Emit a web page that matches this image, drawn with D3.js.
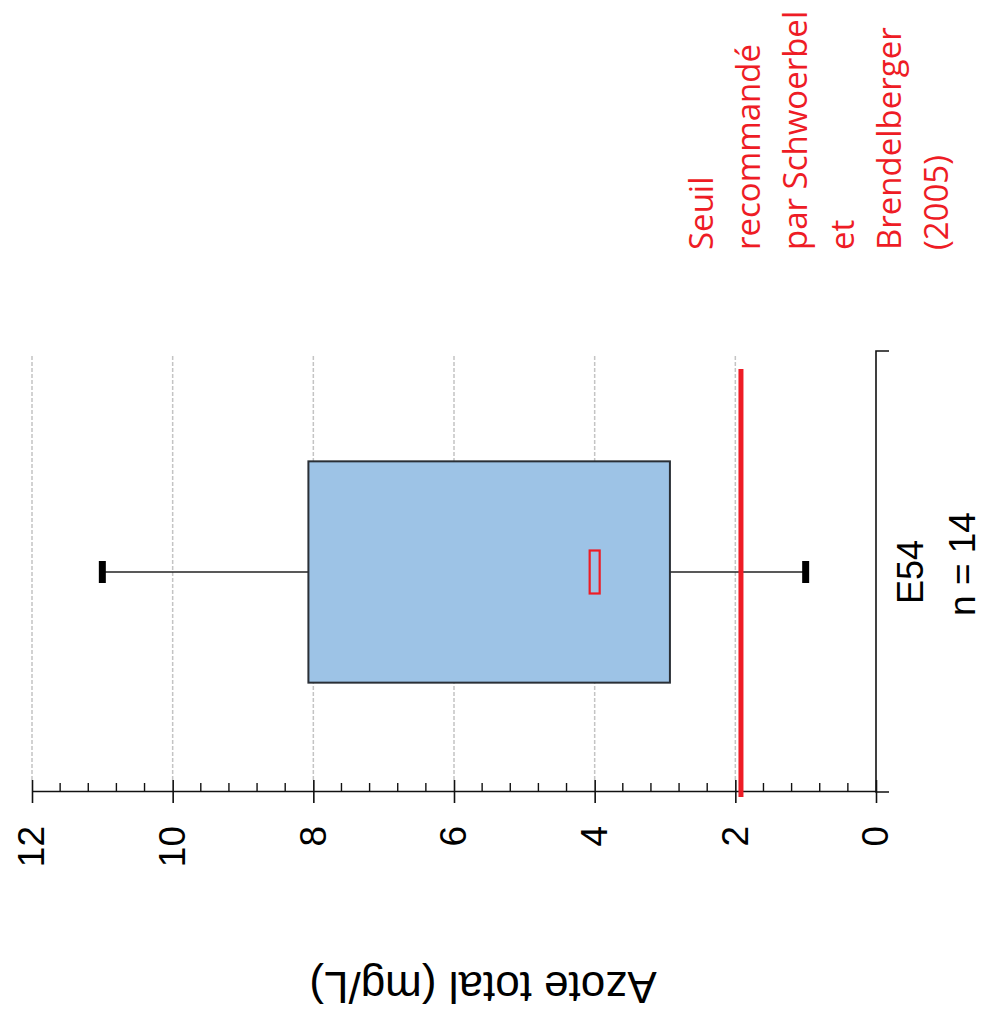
<!DOCTYPE html>
<html>
<head>
<meta charset="utf-8">
<script src="https://cdn.jsdelivr.net/npm/d3@7"></script>
<style>
  html, body { margin: 0; padding: 0; background: #fff; }
  svg { display: block; }
</style>
</head>
<body>
<script>
// Total nitrogen at station E54 (mg/L)
const categories = ["E54"];
const counts = [14];
const whiskerLow = [1.0];
const q1 = [2.93];
const medians = [4.0];
const q3 = [8.07];
const whiskerHigh = [11.0];
const thresholdValue = 1.92;
const thresholdLabel = ["Seuil", "recommandé", "par Schwoerbel", "et", "Brendelberger", "(2005)"];
const majorTicks = [0, 2, 4, 6, 8, 10, 12];
const minorTicks = d3.range(0, 12.001, 0.4).filter(v => Math.abs(v / 2 - Math.round(v / 2)) > 1e-6);
const yTitle = "Azote total (mg/L)";

const W = 1001, H = 1019;
const svg = d3.select("body").append("svg").attr("width", W).attr("height", H);

// The chart is laid out as a vertical box plot and then turned a quarter turn
// counter-clockwise, so the value axis runs along the bottom of the page.
const g = svg.append("g").attr("transform", `translate(0,${H}) rotate(-90)`);

const axisX = 227, plotRight = 667;
const y = d3.scaleLinear().domain([0, 12]).range([876, 32]);
const x = d3.scaleBand().domain(categories).range([axisX, plotRight]).paddingInner(0).paddingOuter(0);

const boxFill = "#9dc3e6";
const red = "#ee1c25";
const sans = "'Liberation Sans', Arial, sans-serif";

// Horizontal dashed gridlines
g.append("g").selectAll("line")
  .data(majorTicks.filter(v => v > 0))
  .join("line")
  .attr("x1", axisX + 12).attr("x2", plotRight - 2)
  .attr("y1", d => y(d)).attr("y2", d => y(d))
  .attr("stroke", "#c4c4c4").attr("stroke-width", 1.5)
  .attr("stroke-dasharray", "4,2");

// Value axis
const yAxis = g.append("g")
  .attr("transform", `translate(${axisX},0)`)
  .call(d3.axisLeft(y).tickValues(majorTicks).tickSizeInner(11).tickSizeOuter(0).tickPadding(23).tickFormat(d3.format("d")));
yAxis.select(".domain").attr("stroke", "#111").attr("stroke-width", 1.6);
yAxis.selectAll(".tick line").attr("x1", 12).attr("stroke", "#111").attr("stroke-width", 1.6);
yAxis.selectAll(".tick text").attr("font-family", sans).attr("font-size", 37).attr("fill", "#000");

// Minor ticks on the inner side
yAxis.append("g").selectAll("line")
  .data(minorTicks)
  .join("line")
  .attr("x1", 0).attr("x2", 9)
  .attr("y1", d => y(d)).attr("y2", d => y(d))
  .attr("stroke", "#111").attr("stroke-width", 1.4);

// Category axis at zero
g.append("path")
  .attr("d", `M${axisX},${y(0) + 13}V${y(0)}H${plotRight + 1}V${y(0) + 13}`)
  .attr("fill", "none").attr("stroke", "#111").attr("stroke-width", 1.6);

// Box plot
const boxW = x.bandwidth() * 0.503;
const capW = 22;
categories.forEach((c, i) => {
  const cx = x(c) + x.bandwidth() / 2;
  // whiskers
  g.append("line").attr("x1", cx).attr("x2", cx)
    .attr("y1", y(q3[i])).attr("y2", y(whiskerHigh[i]))
    .attr("stroke", "#222").attr("stroke-width", 1.6);
  g.append("line").attr("x1", cx).attr("x2", cx)
    .attr("y1", y(q1[i])).attr("y2", y(whiskerLow[i]))
    .attr("stroke", "#222").attr("stroke-width", 1.6);
  // caps
  [whiskerHigh[i], whiskerLow[i]].forEach(v => {
    g.append("line").attr("x1", cx - capW / 2).attr("x2", cx + capW / 2)
      .attr("y1", y(v)).attr("y2", y(v))
      .attr("stroke", "#000").attr("stroke-width", 7);
  });
  // box
  g.append("rect")
    .attr("x", cx - boxW / 2).attr("width", boxW)
    .attr("y", y(q3[i])).attr("height", y(q1[i]) - y(q3[i]))
    .attr("fill", boxFill).attr("stroke", "#2a2f36").attr("stroke-width", 2);
  // median marker
  g.append("rect")
    .attr("x", cx - 21.5).attr("width", 43)
    .attr("y", y(medians[i]) - 5).attr("height", 10)
    .attr("fill", boxFill).attr("stroke", red).attr("stroke-width", 2.2);
  // category labels
  g.append("text")
    .attr("x", cx).attr("y", 923)
    .attr("text-anchor", "middle")
    .attr("font-family", sans).attr("font-size", 36).attr("fill", "#000")
    .text(c);
  g.append("text")
    .attr("x", cx + 8).attr("y", 975)
    .attr("text-anchor", "middle")
    .attr("font-family", sans).attr("font-size", 37).attr("fill", "#000")
    .text(`n = ${counts[i]}`);
});

// Recommended threshold
g.append("line")
  .attr("x1", axisX - 5).attr("x2", 650)
  .attr("y1", y(thresholdValue)).attr("y2", y(thresholdValue))
  .attr("stroke", red).attr("stroke-width", 5);

const lbl = g.append("text")
  .attr("font-family", "'Open Sans', 'Noto Sans', sans-serif")
  .attr("font-size", 33).attr("fill", red);
thresholdLabel.forEach((t, k) => {
  lbl.append("tspan").attr("x", 769).attr("y", 713 + 47 * k).text(t);
});

// Value axis title
g.append("text")
  .attr("transform", "translate(47,483) rotate(-90)")
  .attr("text-anchor", "middle")
  .attr("font-family", sans).attr("font-size", 44).attr("fill", "#000")
  .text(yTitle);
</script>
</body>
</html>
